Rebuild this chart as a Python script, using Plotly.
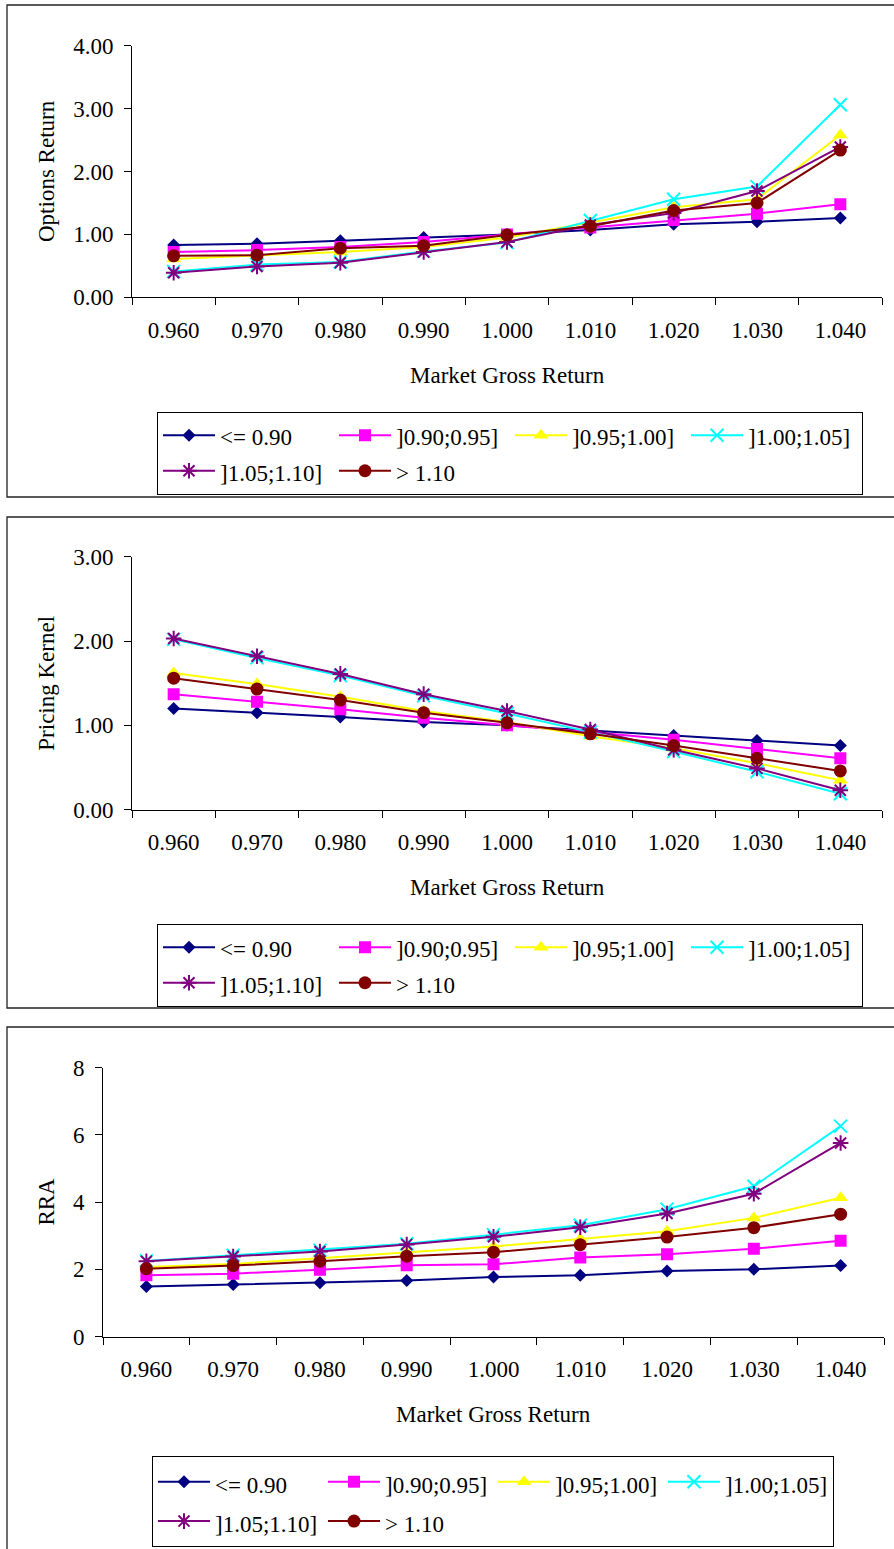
import plotly.graph_objects as go

# ---------------- data ----------------
market = ["0.960", "0.970", "0.980", "0.990", "1.000", "1.010", "1.020", "1.030", "1.040"]
series_names = ["<= 0.90", "]0.90;0.95]", "]0.95;1.00]", "]1.00;1.05]", "]1.05;1.10]", "> 1.10"]

opt_le090 = [0.83, 0.85, 0.90, 0.95, 1.00, 1.07, 1.16, 1.20, 1.26]
opt_090_095 = [0.72, 0.75, 0.80, 0.88, 1.00, 1.11, 1.23, 1.33, 1.48]
opt_095_100 = [0.61, 0.66, 0.72, 0.80, 0.95, 1.19, 1.43, 1.56, 2.58]
opt_100_105 = [0.41, 0.52, 0.56, 0.73, 0.87, 1.22, 1.56, 1.76, 3.06]
opt_105_110 = [0.39, 0.49, 0.55, 0.72, 0.88, 1.15, 1.34, 1.69, 2.39]
opt_gt110 = [0.66, 0.67, 0.78, 0.82, 0.99, 1.13, 1.38, 1.50, 2.34]

pk_le090 = [1.20, 1.15, 1.10, 1.04, 1.00, 0.94, 0.88, 0.82, 0.76]
pk_090_095 = [1.37, 1.28, 1.19, 1.09, 1.00, 0.92, 0.83, 0.72, 0.61]
pk_095_100 = [1.62, 1.49, 1.34, 1.17, 1.04, 0.87, 0.73, 0.55, 0.35]
pk_100_105 = [2.02, 1.80, 1.59, 1.35, 1.14, 0.92, 0.69, 0.45, 0.19]
pk_105_110 = [2.03, 1.82, 1.61, 1.37, 1.17, 0.95, 0.71, 0.49, 0.23]
pk_gt110 = [1.56, 1.43, 1.30, 1.15, 1.03, 0.90, 0.76, 0.61, 0.46]

rra_le090 = [1.49, 1.55, 1.60, 1.67, 1.77, 1.82, 1.95, 2.00, 2.11]
rra_090_095 = [1.82, 1.87, 1.99, 2.12, 2.15, 2.35, 2.45, 2.61, 2.85]
rra_095_100 = [2.07, 2.16, 2.33, 2.50, 2.68, 2.90, 3.13, 3.53, 4.13]
rra_100_105 = [2.25, 2.42, 2.57, 2.76, 3.03, 3.31, 3.79, 4.47, 6.26]
rra_105_110 = [2.24, 2.38, 2.53, 2.74, 2.97, 3.25, 3.66, 4.25, 5.76]
rra_gt110 = [2.02, 2.11, 2.24, 2.39, 2.51, 2.73, 2.96, 3.24, 3.64]

panels = [
    dict(title="Options Return", series=[opt_le090, opt_090_095, opt_095_100, opt_100_105, opt_105_110, opt_gt110]),
    dict(title="Pricing Kernel", series=[pk_le090, pk_090_095, pk_095_100, pk_100_105, pk_105_110, pk_gt110]),
    dict(title="RRA", series=[rra_le090, rra_090_095, rra_095_100, rra_100_105, rra_105_110, rra_gt110]),
]

# ---------------- styles ----------------
colors = ["#000080", "#FF00FF", "#FFFF00", "#00FFFF", "#800080", "#800000"]
symbols = ["diamond", "square", "triangle-up", "x-thin", "asterisk", "circle"]
sizes = [10, 12, 13, 13, 13, 13]
FONT = "Liberation Serif"
FS = 23

W, H = 894, 1549
ML, MR = 103, 10
GW = W - ML - MR


def px(x):
    return (x - ML) / GW


def py(y):
    return 1 - y / H


# per panel layout geometry (pixels)
geo = [
    dict(x0=132, x1=882, top=45.7, bot=297.3, rng=[0, 4], dtick=1, fmt=".2f",
         frame=(7, 5, 497), leg_top=411.5, leg_left=157, entry=109, legfs=25),
    dict(x0=132, x1=882, top=556.7, bot=809.7, rng=[0, 3], dtick=1, fmt=".2f",
         frame=(7, 517, 1008), leg_top=923.5, leg_left=157, entry=109, legfs=25),
    dict(x0=103, x1=884, top=1067.7, bot=1336.5, rng=[0, 8], dtick=2, fmt="d",
         frame=(7, 1027, 1600), leg_top=1456, leg_left=152, entry=103, legfs=28),
]

fig = go.Figure()
for p, (panel, g) in enumerate(zip(panels, geo)):
    xa = "x" if p == 0 else f"x{p+1}"
    ya = "y" if p == 0 else f"y{p+1}"
    lg = "legend" if p == 0 else f"legend{p+1}"
    for i, vals in enumerate(panel["series"]):
        nm = series_names[i].replace("<", "&lt;").replace(">", "&gt;")
        fig.add_trace(go.Scatter(
            x=market, y=vals, xaxis=xa, yaxis=ya, legend=lg,
            name=f'<span style="font-size:{FS}px">{nm}</span>',
            mode="lines+markers",
            line=dict(color=colors[i], width=2),
            marker=dict(symbol=symbols[i], size=sizes[i], color=colors[i],
                        line=dict(color=colors[i], width=2 if symbols[i] in ("x-thin", "asterisk") else 0)),
        ))

layout = dict(
    template="none",
    width=W, height=H,
    margin=dict(l=ML, r=MR, t=0, b=0, pad=0, autoexpand=False),
    paper_bgcolor="white", plot_bgcolor="white",
    font=dict(family=FONT, size=FS, color="black"),
    showlegend=True,
    shapes=[], annotations=[],
)

for p, g in enumerate(geo):
    sfx = "" if p == 0 else str(p + 1)
    layout["xaxis" + sfx] = dict(
        domain=[px(g["x0"]), px(g["x1"])], anchor="y" + sfx, type="category",
        tickson="boundaries", ticks="outside", ticklen=7, tickwidth=1, tickcolor="black",
        showline=True, linecolor="black", linewidth=1, showgrid=False, zeroline=False,
        tickfont=dict(family=FONT, size=FS, color="black"), ticklabelstandoff=12,
        range=[-0.5, 8.5], fixedrange=True, automargin=False,
    )
    layout["yaxis" + sfx] = dict(
        domain=[py(g["bot"]), py(g["top"])], anchor="x" + sfx, range=g["rng"], dtick=g["dtick"],
        tickformat=g["fmt"], ticks="outside", ticklen=7, tickwidth=1, tickcolor="black",
        showline=True, linecolor="black", linewidth=1, showgrid=False, zeroline=False,
        tickfont=dict(family=FONT, size=FS, color="black"), ticklabelstandoff=6,
        fixedrange=True, automargin=False,
    )
    lgk = "legend" + sfx
    layout[lgk] = dict(
        orientation="h", x=px(g["leg_left"]), y=py(g["leg_top"]), xanchor="left", yanchor="top",
        bordercolor="black", borderwidth=1, bgcolor="white",
        font=dict(family=FONT, size=g["legfs"], color="black"),
        itemwidth=52, entrywidth=g["entry"], entrywidthmode="pixels",
        traceorder="normal", itemclick=False, itemdoubleclick=False,
    )
    fl, ft, fb = g["frame"]
    layout["shapes"].append(dict(type="rect", xref="paper", yref="paper",
                                 x0=px(fl), x1=px(W + 20), y0=py(fb), y1=py(ft),
                                 line=dict(color="#222222", width=1.3), layer="below"))
    layout["annotations"].append(dict(
        text="Market Gross Return", xref="paper", yref="paper",
        x=px((g["x0"] + g["x1"]) / 2), y=py(g["bot"] + 77.7), xanchor="center", yanchor="middle",
        showarrow=False, font=dict(family=FONT, size=FS, color="black")))
    layout["annotations"].append(dict(
        text=panels[p]["title"], xref="paper", yref="paper",
        x=px(46.5), y=py((g["top"] + g["bot"]) / 2), xanchor="center", yanchor="middle",
        textangle=-90, showarrow=False, font=dict(family=FONT, size=FS, color="black")))

fig.update_layout(**layout)
fig.write_html("out.html", config={"displayModeBar": False, "staticPlot": True},
               post_script="document.body.style.margin='0';document.body.style.padding='0';")
